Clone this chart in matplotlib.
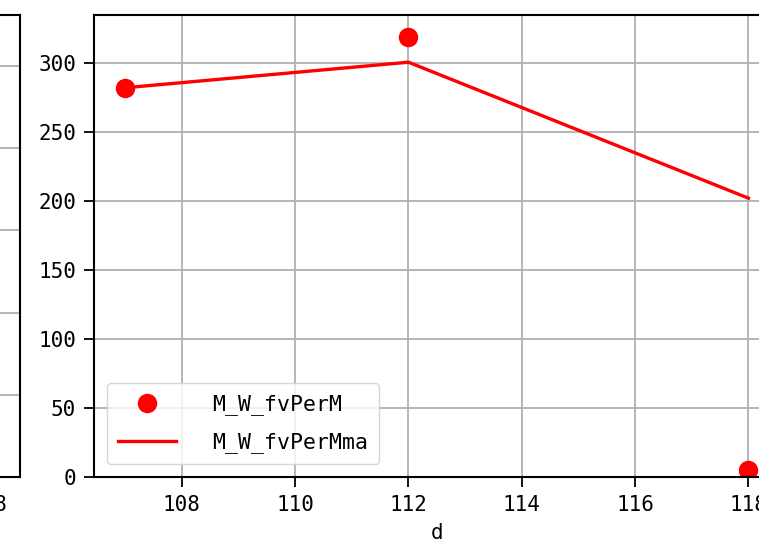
import numpy as np
import pandas as pd
import matplotlib
matplotlib.use("Agg")
import matplotlib.pyplot as plt

plt.rcParams["font.family"] = ["DejaVu Sans Mono"]
plt.rcParams["font.size"] = 15

d = [107, 112, 118]
fv_per_m = [282, 319, 5]

df = pd.DataFrame({"d": d, "M_W_fvPerM": fv_per_m})
df["M_W_fvPerMma"] = df["M_W_fvPerM"].expanding().mean()

W, H = 759, 552
fig = plt.figure(figsize=(W / 100, H / 100), dpi=100)

ax_w = 685.6 / W
ax_h = 462 / H
bottom = 75 / H

# neighbouring subplot, only its right edge is visible
ax0 = fig.add_axes([(20 - 685.6) / W, bottom, ax_w, ax_h])
ax0.set_xlim(106.45, 118.55)
ax0.set_ylim(0, 462 / 82.2)
ax0.set_yticks(range(6))
ax0.grid(True, color="#b0b0b0", lw=1.3)

ax = fig.add_axes([94 / W, bottom, ax_w, ax_h])
ax.plot(df["d"], df["M_W_fvPerM"], "o", color="red", ms=13, label="M_W_fvPerM")
ax.plot(df["d"], df["M_W_fvPerMma"], "-", color="red", lw=2.4, label="M_W_fvPerMma")
ax.set_ylim(bottom=0)
ax.set_xlabel("d", labelpad=6)
ax.grid(True, color="#b0b0b0", lw=1.3)
ax.legend(loc="lower left", numpoints=1, handlelength=2.7, handletextpad=1.7,
          borderaxespad=0.6, labelspacing=0.8, borderpad=0.5, fontsize=15.5)

for a in (ax0, ax):
    for s in a.spines.values():
        s.set_linewidth(1.5)
    a.tick_params(length=7, width=1.3, pad=6)

fig.savefig("out.png", dpi=100)
